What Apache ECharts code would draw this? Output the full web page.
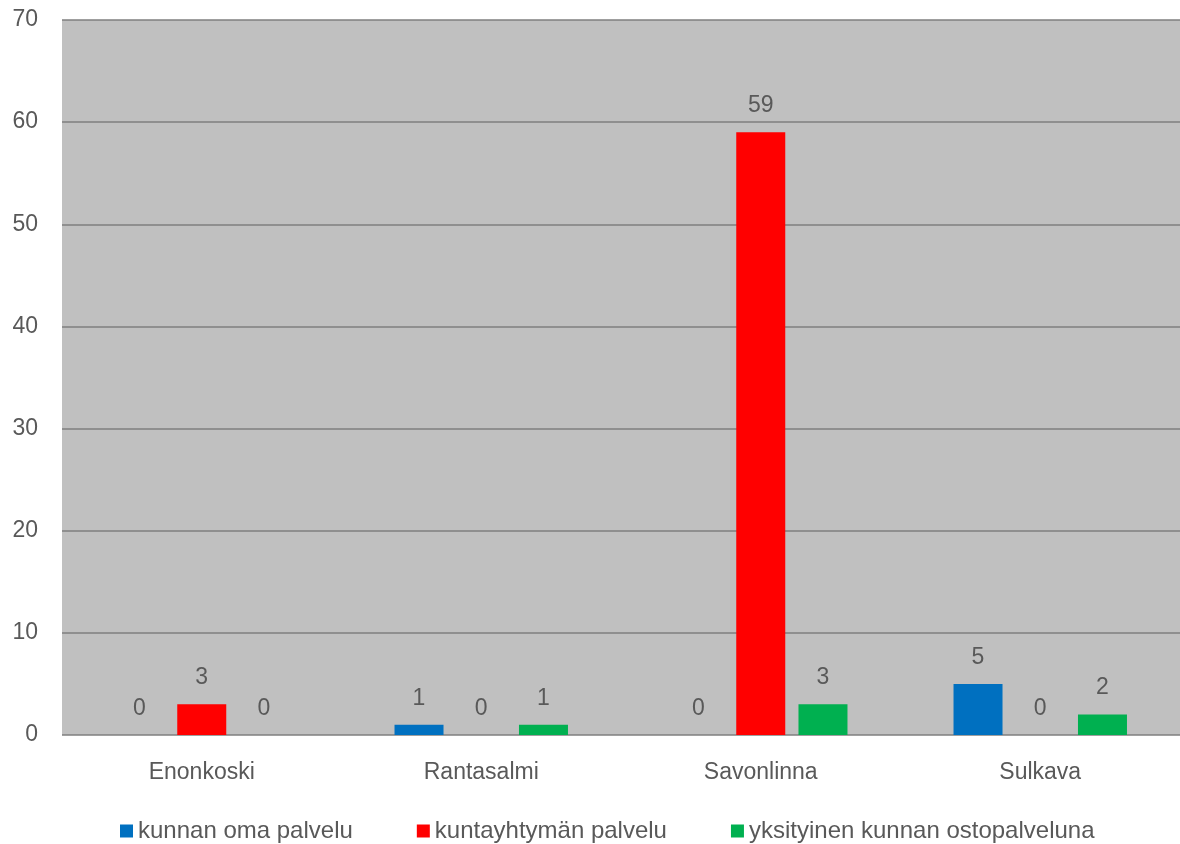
<!DOCTYPE html>
<html><head><meta charset="utf-8">
<script src="https://cdn.jsdelivr.net/npm/echarts@6/dist/echarts.min.js"></script>
<style>html,body{margin:0;padding:0;background:#fff}#c{width:1180px;height:844px}</style>
</head><body><div id="c"></div>
<script>
var categories = ["Enonkoski", "Rantasalmi", "Savonlinna", "Sulkava"];
var seriesNames = ["kunnan oma palvelu", "kuntayhtymän palvelu", "yksityinen kunnan ostopalveluna"];
var omaPalvelu = [0, 1, 0, 5];
var kuntayhtyma = [3, 0, 59, 0];
var ostopalvelu = [0, 1, 3, 2];
var yTicks = [0, 10, 20, 30, 40, 50, 60, 70];

var colors = ["#0070C0", "#FF0000", "#00B050"];
var font = "Liberation Sans";
var txt = "#595959";
var fs = 23;
function mk(name, data, color) {
  return {
    name: name, type: "bar", data: data, barWidth: 49, barGap: "27%",
    itemStyle: { color: color },
    label: { show: true, position: "top", distance: 15, color: txt, fontSize: fs, fontFamily: font },
    emphasis: { disabled: true }
  };
}
var chart = echarts.init(document.getElementById("c"));
chart.setOption({
  animation: false,
  grid: { left: 62, right: 0, top: 20, bottom: 109, backgroundColor: "#C0C0C0", show: true, borderWidth: 0 },
  legend: {
    top: 814, left: 115, itemWidth: 13, itemHeight: 13, itemGap: 64, icon: "rect",
    textStyle: { color: txt, fontSize: 24, fontFamily: font },
    data: seriesNames
  },
  xAxis: {
    type: "category", data: categories,
    axisLine: { show: false }, axisTick: { show: false },
    axisLabel: { color: txt, fontSize: fs, fontFamily: font, margin: 26 }
  },
  yAxis: {
    type: "value", min: yTicks[0], max: yTicks[yTicks.length - 1], interval: 10,
    axisLine: { show: false }, axisTick: { show: false },
    axisLabel: { color: txt, fontSize: fs, fontFamily: font, margin: 24 },
    splitLine: { lineStyle: { color: "#7f7f7f", width: 1.5 } }
  },
  series: [mk(seriesNames[0], omaPalvelu, colors[0]), mk(seriesNames[1], kuntayhtyma, colors[1]), mk(seriesNames[2], ostopalvelu, colors[2])]
});
</script></body></html>
